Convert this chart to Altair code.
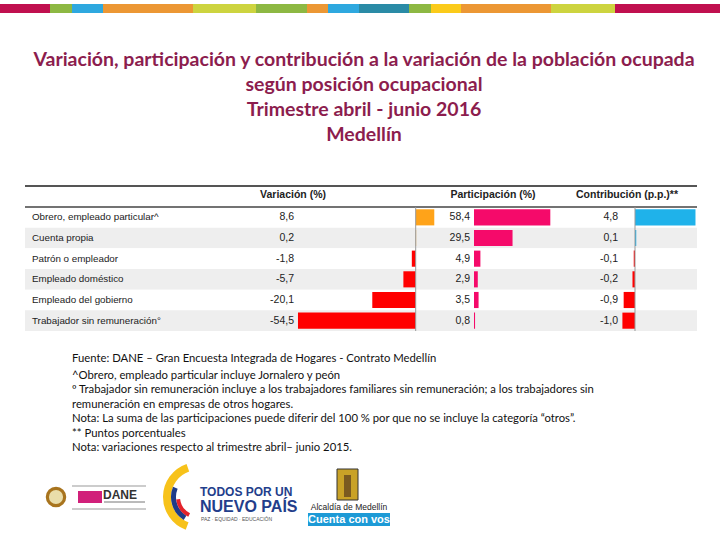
import altair as alt
import pandas as pd

# ---------------- data ----------------
categories = [
    "Obrero, empleado particular^",
    "Cuenta propia",
    "Patrón o empleador",
    "Empleado doméstico",
    "Empleado del gobierno",
    "Trabajador sin remuneración°",
]
variacion = [8.6, 0.2, -1.8, -5.7, -20.1, -54.5]
participacion = [58.4, 29.5, 4.9, 2.9, 3.5, 0.8]
contribucion = [4.8, 0.1, -0.1, -0.2, -0.9, -1.0]

headers = ["Variación (%)", "Participación  (%)", "Contribución  (p.p.)**"]

title_lines = [
    "Variación, participación y contribución  a la variación de la población ocupada",
    "según posición ocupacional",
    "Trimestre abril - junio 2016",
    "Medellín",
]
source_line = "Fuente: DANE – Gran Encuesta Integrada de Hogares - Contrato Medellín"
note_lines = [
    "^Obrero, empleado particular incluye Jornalero y peón",
    "º Trabajador sin remuneración incluye a los trabajadores familiares sin remuneración; a los trabajadores  sin",
    "remuneración en empresas de otros hogares.",
    "Nota: La suma de las participaciones puede diferir del 100 % por que no se incluye la categoría “otros”.",
    "** Puntos porcentuales",
    "Nota: variaciones respecto al trimestre abril– junio 2015.",
]

stripe_colors = ["#C0104F", "#8DB843", "#2EA8DF", "#EC9734", "#CDD43F", "#8DB843", "#EC9734",
                 "#2EA8DF", "#2A8BA6", "#8DB843", "#FBCB1A", "#EC9734", "#CDD43F", "#C0104F"]
stripe_widths = [50, 22, 31, 90, 63, 51, 21, 31, 50, 22, 30, 90, 64, 105]


def fmt(v):
    return f"{v:.1f}".replace(".", ",")


df = pd.DataFrame({
    "cat": categories,
    "var": variacion,
    "part": participacion,
    "contr": contribucion,
    "var_lbl": [fmt(v) for v in variacion],
    "part_lbl": [fmt(v) for v in participacion],
    "contr_lbl": [fmt(v) for v in contribucion],
    "shade": ["w", "g", "w", "g", "w", "g"],
})

left = []
acc = 0
for w in stripe_widths:
    left.append(acc)
    acc += w
stripe = pd.DataFrame({"x": left, "x2": [l + w for l, w in zip(left, stripe_widths)], "c": stripe_colors})

TABLE_FONT = "Liberation Sans Narrow, Arial Narrow, Liberation Sans, sans-serif"
NOTE_FONT = "Lato"

row_scale = alt.Scale(domain=categories, range=[207, 331], paddingInner=0, paddingOuter=0)
bar_scale = alt.Scale(domain=categories, range=[207, 331], paddingInner=0.22, paddingOuter=0.11)
var_x = alt.Scale(domain=[-60, 10], range=[286.1, 437.3])
part_x = alt.Scale(domain=[0, 60], range=[474, 552.4])
contr_x = alt.Scale(domain=[-2, 5], range=[609.8, 698])

base = alt.Chart(df)
one = alt.Chart(pd.DataFrame({"z": [0]}))

# top stripe
stripe_layer = alt.Chart(stripe).mark_rect().encode(
    x=alt.X("x:Q", scale=None), x2="x2:Q",
    y=alt.value(4), y2=alt.value(13),
    color=alt.Color("c:N", scale=None),
)

# row backgrounds
rows = base.mark_rect().encode(
    x=alt.value(25), x2=alt.value(697),
    y=alt.Y("cat:N", scale=row_scale, axis=None),
    color=alt.Color("shade:N", scale=alt.Scale(domain=["w", "g"], range=["#FFFFFF", "#EEEEEE"]), legend=None),
)

top_rule = one.mark_rule(color="#555555", strokeWidth=2).encode(
    x=alt.value(25), x2=alt.value(697), y=alt.value(186))
head_rule = one.mark_rule(color="#444444", strokeWidth=1.5).encode(
    x=alt.value(25), x2=alt.value(697), y=alt.value(207))

hdr_style = dict(font=TABLE_FONT, fontSize=10.5, fontWeight="bold", color="#222222", baseline="middle", align="center")
h1 = one.mark_text(text=headers[0], **hdr_style).encode(x=alt.value(293), y=alt.value(195))
h2 = one.mark_text(text=headers[1], **hdr_style).encode(x=alt.value(493), y=alt.value(195))
h3 = one.mark_text(text=headers[2], **hdr_style).encode(x=alt.value(627), y=alt.value(195))

lbl_style = dict(font=TABLE_FONT, fontSize=9.8, color="#222222", baseline="middle")
val_style = dict(font=TABLE_FONT, fontSize=10.5, color="#222222", baseline="middle")
labels = base.mark_text(align="left", **lbl_style).encode(
    x=alt.value(32), y=alt.Y("cat:N", scale=row_scale, axis=None), text="cat:N")
var_txt = base.mark_text(align="right", **val_style).encode(
    x=alt.value(294), y=alt.Y("cat:N", scale=row_scale, axis=None), text="var_lbl:N")
part_txt = base.mark_text(align="right", **val_style).encode(
    x=alt.value(470), y=alt.Y("cat:N", scale=row_scale, axis=None), text="part_lbl:N")
contr_txt = base.mark_text(align="right", **val_style).encode(
    x=alt.value(618), y=alt.Y("cat:N", scale=row_scale, axis=None), text="contr_lbl:N")

var_bars = base.mark_bar().encode(
    x=alt.X("var:Q", scale=var_x, axis=None),
    y=alt.Y("cat:N", scale=bar_scale, axis=None),
    color=alt.condition(alt.datum.var > 0, alt.value("#FFA319"), alt.value("#FF0000")),
)
part_bars = base.mark_bar(color="#F50A6A").encode(
    x=alt.X("part:Q", scale=part_x, axis=None),
    y=alt.Y("cat:N", scale=bar_scale, axis=None),
)
contr_bars = base.mark_bar().encode(
    x=alt.X("contr:Q", scale=contr_x, axis=None),
    y=alt.Y("cat:N", scale=bar_scale, axis=None),
    color=alt.condition(alt.datum.contr > 0, alt.value("#1FB2EA"), alt.value("#FF0000")),
)

var_zero = one.mark_rule(color="#999999", strokeWidth=1).encode(
    x=alt.X("z:Q", scale=var_x, axis=None), y=alt.value(207), y2=alt.value(331))
contr_zero = one.mark_rule(color="#999999", strokeWidth=1).encode(
    x=alt.X("z:Q", scale=contr_x, axis=None), y=alt.value(207), y2=alt.value(331))

# title
title = one.mark_text(text=title_lines, font=NOTE_FONT, fontSize=19.5, fontWeight="bold", color="#8C1D4E",
                      align="center", baseline="top", lineHeight=25).encode(
    x=alt.value(364), y=alt.value(51))

# footnotes
src = one.mark_text(text=source_line, font=NOTE_FONT, fontSize=11.3, color="#111111",
                    align="left", baseline="middle").encode(x=alt.value(72), y=alt.value(359))
notes = one.mark_text(text=note_lines, font=NOTE_FONT, fontSize=11.3, color="#111111",
                      align="left", baseline="top", lineHeight=14.4).encode(x=alt.value(72), y=alt.value(370))

# logos (approximated)
dane_lines = [
    one.mark_rule(color="#999999", strokeWidth=1).encode(x=alt.value(72), x2=alt.value(146), y=alt.value(486)),
    one.mark_rule(color="#999999", strokeWidth=1).encode(x=alt.value(72), x2=alt.value(146), y=alt.value(509)),
]
emblem1 = one.mark_circle(size=420, color="#A8741E", opacity=1).encode(x=alt.value(56), y=alt.value(497))
emblem2 = one.mark_circle(size=200, color="#E9DDAA", opacity=1).encode(x=alt.value(56), y=alt.value(497))
dane_pink = one.mark_rect(color="#D1207A").encode(x=alt.value(78), x2=alt.value(102), y=alt.value(491), y2=alt.value(503))
dane_txt = one.mark_text(text="DANE", font="Liberation Sans", fontSize=12, fontWeight="bold", color="#333333",
                         align="left", baseline="middle").encode(x=alt.value(103), y=alt.value(495))
dane_sub = one.mark_rule(color="#777777", strokeWidth=1).encode(x=alt.value(104), x2=alt.value(145), y=alt.value(502))

arc_y = one.mark_arc(radius=35, radius2=27, theta=3.5, theta2=5.95, color="#F7C21A").encode(x=alt.value(198), y=alt.value(497))
arc_b = one.mark_arc(radius=27, radius2=22, theta=3.7, theta2=5.1, color="#1F3C88").encode(x=alt.value(198), y=alt.value(497))
arc_r = one.mark_arc(radius=22, radius2=18, theta=3.6, theta2=4.6, color="#E3232B").encode(x=alt.value(198), y=alt.value(497))
todos = one.mark_text(text="TODOS POR UN", font="Liberation Sans", fontSize=12, fontWeight="bold", color="#233E8B",
                      align="left", baseline="middle").encode(x=alt.value(200), y=alt.value(492))
nuevo = one.mark_text(text="NUEVO PAÍS", font="Liberation Sans", fontSize=16, fontWeight="bold", color="#233E8B",
                      align="left", baseline="middle").encode(x=alt.value(200), y=alt.value(507))
paz = one.mark_text(text="PAZ  ·  EQUIDAD  ·  EDUCACIÓN", font="Liberation Sans", fontSize=5, color="#555555",
                    align="left", baseline="middle").encode(x=alt.value(201), y=alt.value(519))

shield = one.mark_rect(color="#C9A227", stroke="#333333", strokeWidth=1).encode(
    x=alt.value(337), x2=alt.value(358), y=alt.value(469), y2=alt.value(500))
tower = one.mark_rect(color="#7A5A20").encode(x=alt.value(344), x2=alt.value(351), y=alt.value(475), y2=alt.value(497))
alcaldia = one.mark_text(text="Alcaldía de Medellín", font="Liberation Sans", fontSize=8.5, color="#222222",
                         align="center", baseline="middle").encode(x=alt.value(349), y=alt.value(507))
cuenta_box = one.mark_rect(color="#1D9AD6").encode(x=alt.value(308), x2=alt.value(390), y=alt.value(513), y2=alt.value(526))
cuenta = one.mark_text(text="Cuenta con vos", font="Liberation Sans", fontSize=11, fontWeight="bold", color="#FFFFFF",
                       align="center", baseline="middle").encode(x=alt.value(349), y=alt.value(520))

chart = alt.layer(
    stripe_layer, rows, top_rule, head_rule, h1, h2, h3,
    var_bars, part_bars, contr_bars, var_zero, contr_zero,
    labels, var_txt, part_txt, contr_txt,
    title, src, notes,
    *dane_lines, emblem1, emblem2, dane_pink, dane_txt, dane_sub,
    arc_y, arc_b, arc_r, todos, nuevo, paz,
    shield, tower, alcaldia, cuenta_box, cuenta,
).resolve_scale(
    x="independent", y="independent", color="independent"
).properties(
    width=720, height=540, padding=0,
    autosize=alt.AutoSizeParams(type="none"),
    background="white",
).configure_view(stroke=None)

chart.save("out.html", embed_options={"renderer": "svg", "actions": False})
